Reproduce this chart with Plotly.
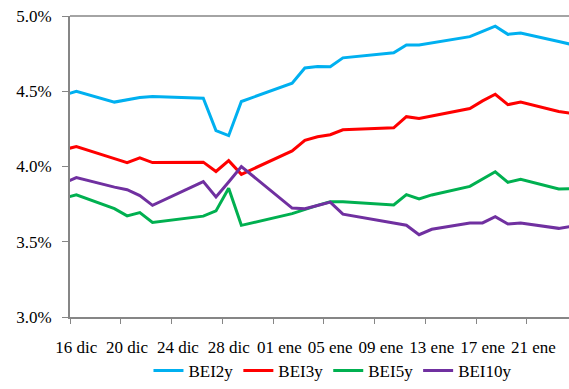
import pandas as pd
import plotly.graph_objects as go

# Trading dates (Dec 2022 - Jan 2023)
dates = ["2022-12-15", "2022-12-16", "2022-12-19", "2022-12-20", "2022-12-21",
         "2022-12-22", "2022-12-26", "2022-12-27", "2022-12-28", "2022-12-29",
         "2023-01-02", "2023-01-03", "2023-01-04", "2023-01-05", "2023-01-06",
         "2023-01-10", "2023-01-11", "2023-01-12", "2023-01-13", "2023-01-16",
         "2023-01-17", "2023-01-18", "2023-01-19", "2023-01-20", "2023-01-23",
         "2023-01-24"]

# Breakeven inflation, in percent
bei2y = [4.474, 4.500, 4.428, 4.441, 4.459, 4.465, 4.454, 4.239, 4.205, 4.432,
         4.553, 4.655, 4.665, 4.663, 4.722, 4.756, 4.808, 4.808, 4.822, 4.863,
         4.898, 4.932, 4.878, 4.887, 4.831, 4.811]
bei3y = [4.111, 4.133, 4.052, 4.026, 4.057, 4.026, 4.029, 3.967, 4.039, 3.948,
         4.104, 4.174, 4.198, 4.211, 4.244, 4.257, 4.331, 4.319, 4.336, 4.385,
         4.436, 4.480, 4.411, 4.428, 4.366, 4.353]
bei5y = [3.789, 3.812, 3.720, 3.672, 3.694, 3.628, 3.670, 3.705, 3.855, 3.609,
         3.687, 3.716, 3.742, 3.765, 3.765, 3.745, 3.813, 3.784, 3.811, 3.868,
         3.916, 3.965, 3.895, 3.915, 3.851, 3.853]
bei10y = [3.890, 3.926, 3.863, 3.846, 3.807, 3.742, 3.900, 3.798, 3.897, 4.000,
          3.724, 3.720, 3.741, 3.763, 3.683, 3.625, 3.610, 3.547, 3.583, 3.625,
          3.625, 3.666, 3.618, 3.625, 3.589, 3.603]

series_names = ["BEI2y", "BEI3y", "BEI5y", "BEI10y"]
series_colors = ["#00B0F0", "#FF0000", "#00B050", "#7030A0"]

tick_dates = ["2022-12-16", "2022-12-20", "2022-12-24", "2022-12-28", "2023-01-01",
              "2023-01-05", "2023-01-09", "2023-01-13", "2023-01-17", "2023-01-21"]
tick_labels = ["16 dic", "20 dic", "24 dic", "28 dic", "01 ene",
               "05 ene", "09 ene", "13 ene", "17 ene", "21 ene"]
y_ticks = [3.0, 3.5, 4.0, 4.5, 5.0]
y_labels = ["3.0%", "3.5%", "4.0%", "4.5%", "5.0%"]

x = pd.to_datetime(dates)
# each day occupies a slot; tick marks sit on slot edges, labels at slot centres
half_day = pd.Timedelta(hours=12)
edge_ticks = [(pd.Timestamp(d) - half_day).strftime("%Y-%m-%d %H:%M") for d in tick_dates]
x_start = pd.Timestamp("2022-12-16") - half_day
x_end = x_start + pd.Timedelta(days=39.31)

fig = go.Figure()
for name, vals, col in zip(series_names, [bei2y, bei3y, bei5y, bei10y], series_colors):
    fig.add_trace(go.Scatter(x=x, y=vals, name=name, mode="lines",
                             line=dict(color=col, width=3)))

axis_grey = "#868686"
serif = "Liberation Serif, DejaVu Serif, serif"
font = dict(family=serif, size=17, color="#000000")

fig.update_layout(
    width=569, height=389,
    margin=dict(l=70, r=0, t=16, b=66),
    paper_bgcolor="white", plot_bgcolor="white",
    font=font,
    showlegend=True,
    legend=dict(orientation="h", x=0.527, xanchor="center", y=-0.18, yanchor="middle",
                font=dict(family=serif, size=17, color="#000000"), itemwidth=30,
                traceorder="normal"),
    xaxis=dict(
        type="date", range=[x_start, x_end],
        tickmode="array", tickvals=tick_dates, ticktext=tick_labels,
        ticks="", ticklen=0, ticklabelstandoff=14,
        showgrid=False, zeroline=False,
        showline=True, linecolor=axis_grey, linewidth=2,
        tickfont=font,
        minor=dict(tickmode="array",
                   tickvals=[x_start.strftime("%Y-%m-%d %H:%M")] + edge_ticks,
                   ticks="outside", ticklen=5, tickcolor=axis_grey, tickwidth=1,
                   showgrid=False),
    ),
    yaxis=dict(
        range=[3.0, 5.0], tickmode="array", tickvals=y_ticks, ticktext=y_labels,
        ticks="outside", ticklen=6, tickcolor=axis_grey, tickwidth=1,
        ticklabelstandoff=7,
        showgrid=False, zeroline=False,
        showline=True, linecolor=axis_grey, linewidth=2,
        tickfont=font,
    ),
    shapes=[dict(type="line", xref="paper", yref="paper", x0=0, x1=1, y0=1, y1=1,
                 line=dict(color=axis_grey, width=1.5))],
)

fig.write_html("out.html")
